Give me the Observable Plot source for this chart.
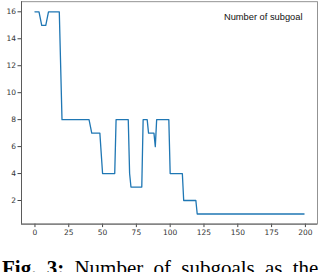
<!DOCTYPE html>
<html>
<head>
<meta charset="utf-8">
<script src="https://cdn.jsdelivr.net/npm/d3@7"></script>
<script src="https://cdn.jsdelivr.net/npm/@observablehq/plot@0.6"></script>
<style>
  html, body { margin: 0; padding: 0; background: #fff; width: 322px; height: 272px; overflow: hidden; }
  #wrap { position: relative; width: 322px; height: 272px; }
  #caption { position: absolute; left: 2px; top: 258px; width: 330px; white-space: nowrap;
    font-family: "Liberation Serif", "DejaVu Serif", serif; font-size: 21px; line-height: 21px;
    color: #000; word-spacing: 5px; }
</style>
</head>
<body>
<div id="wrap">
  <div id="chart"></div>
  <div id="caption"><b>Fig. 3:</b> Number of subgoals as the</div>
</div>
<script>
// Breakpoints of the step-like curve (episode, number of subgoals)
const episodes = [0, 3, 5, 8, 10, 18, 20, 40, 42, 48, 50, 59, 60, 69, 70, 71, 79, 80, 83, 84, 88, 89, 90, 99, 100, 109, 110, 119, 120, 199];
const subgoals = [16, 16, 15, 15, 16, 16, 8, 8, 7, 7, 4, 4, 8, 8, 4, 3, 3, 8, 8, 7, 7, 6, 8, 8, 4, 4, 2, 2, 1, 1];
const xTicks = [0, 25, 50, 75, 100, 125, 150, 175, 200];
const yTicks = [2, 4, 6, 8, 10, 12, 14, 16];
const legendLabel = "Number of subgoal";

const data = episodes.map((e, i) => ({x: e, y: subgoals[i]}));

const chart = Plot.plot({
  width: 322,
  height: 245,
  marginLeft: 21,
  marginRight: 5,
  marginTop: 1.2,
  marginBottom: 21.4,
  style: {fontFamily: "DejaVu Sans", fontSize: "7.5px", color: "#333", background: "#fff"},
  x: {domain: [-9.95, 208.95], ticks: xTicks, label: null},
  y: {domain: [0.25, 16.75], ticks: yTicks, label: null},
  marks: [
    Plot.line(data, {x: "x", y: "y", stroke: "#1f77b4", strokeWidth: 1.3}),
    Plot.axisX({ticks: xTicks, tickSize: 3.5, tickPadding: 2, stroke: "#444", label: null}),
    Plot.axisY({ticks: yTicks, tickSize: 3.5, tickPadding: 2, stroke: "#444", label: null}),
    Plot.frame({stroke: "#888", strokeWidth: 0.9}),
    Plot.ruleX([-9.95], {stroke: "#555", strokeWidth: 0.9}),
    Plot.ruleY([0.25], {stroke: "#555", strokeWidth: 0.9}),
    Plot.text([legendLabel], {frameAnchor: "top-right", textAnchor: "end", lineAnchor: "middle",
      dx: -15, dy: 15, fontFamily: "Liberation Sans", fontSize: 9.3, fill: "#111", text: d => d})
  ]
});
document.getElementById("chart").appendChild(chart);
</script>
</body>
</html>
